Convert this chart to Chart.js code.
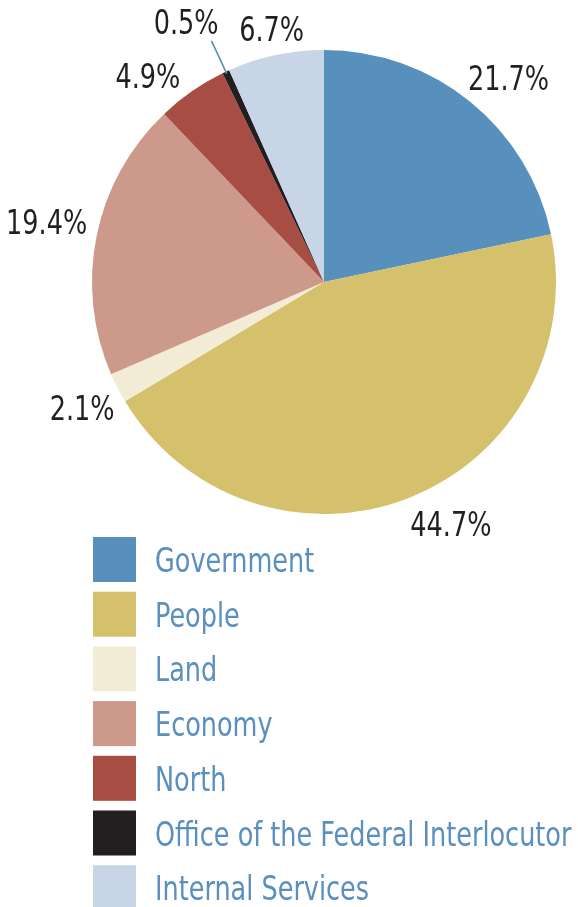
<!DOCTYPE html>
<html>
<head>
<meta charset="utf-8">
<script src="https://cdn.jsdelivr.net/npm/chart.js@4"></script>
<style>
  html, body { margin:0; padding:0; background:#fff; }
  #wrap { width:578px; height:907px; }
</style>
</head>
<body>
<div id="wrap"><canvas id="pie"></canvas></div>
<script>
var categories = ['Government', 'People', 'Land', 'Economy', 'North', 'Office of the Federal Interlocutor', 'Internal Services'];
var shares     = [21.7, 44.7, 2.1, 19.4, 4.9, 0.5, 6.7];
var colors     = ['#5890bd', '#d5c16b', '#f2ecd6', '#cd998b', '#a84d44', '#231f20', '#c8d5e6'];

// small hand nudges for the % labels (px)
var labelNudge = [[10,13], [29,-5], [4,2], [1,-1], [-22,19], [0,4], [2,4]];

var condensed = '"Liberation Sans Narrow", "DejaVu Sans Condensed", "Roboto", sans-serif';
var squeeze = 0.86; // narrow the glyphs a bit more

function narrowText(ctx, txt, x, y){
  ctx.save();
  ctx.translate(x, y);
  ctx.scale(squeeze, 1);
  ctx.fillText(txt, 0, 0);
  ctx.restore();
}

//percent labels outside each slice
var pctLabels = {
  id:'pctLabels',
  afterDatasetsDraw: function(chart){
    var ctx = chart.ctx;
    var arcs = chart.getDatasetMeta(0).data;
    ctx.save();
    ctx.font = '33px ' + condensed;
    ctx.textBaseline = 'middle';
    for (var i=0;i<arcs.length;i++){
      var a = arcs[i];
      var mid = (a.startAngle + a.endAngle)/2;
      var c = Math.cos(mid), s = Math.sin(mid);
      var txt = shares[i].toFixed(1) + '%';
      var hw = ctx.measureText(txt).width*squeeze/2, hh = 12;
      var ox = a.x, oy = a.y;
      var nx = labelNudge[i][0], ny = labelNudge[i][1];
      ctx.fillStyle = '#231f20';
      if (shares[i] < 1) {
        //thin slice gets a leader line
        var ex = ox + c*(a.outerRadius+34), ey = oy + s*(a.outerRadius+34);
        ctx.strokeStyle = '#5890bd';
        ctx.lineWidth = 1.6;
        ctx.beginPath();
        ctx.moveTo(ox + c*(a.outerRadius-2), oy + s*(a.outerRadius-2));
        ctx.lineTo(ex, ey);
        ctx.stroke();
        ctx.textAlign = 'right';
        narrowText(ctx, txt, ex + 7 + nx, ey - 20 + ny);
        continue;
      }
      var d = a.outerRadius + 10 + hw*Math.abs(c) + hh*Math.abs(s);
      ctx.textAlign = 'center';
      narrowText(ctx, txt, ox + c*d + nx, oy + s*d + 1 + ny);
    }
    ctx.restore();
  }
};

//legend list under the pie
var sideLegend = {
  id:'sideLegend',
  afterDraw: function(chart){
    var ctx = chart.ctx;
    ctx.save();
    ctx.font = '33px ' + condensed;
    ctx.textBaseline = 'alphabetic';
    ctx.textAlign = 'left';
    for (var i=0;i<categories.length;i++){
      var y = 537 + i*54.7;
      ctx.fillStyle = colors[i];
      ctx.fillRect(93, y, 43, 45);
      ctx.fillStyle = '#5a8fbf';
      narrowText(ctx, categories[i], 155, y + 35);
    }
    ctx.restore();
  }
};

new Chart(document.getElementById('pie'), {
  type:'pie',
  data:{ labels:categories, datasets:[{ data:shares, backgroundColor:colors, borderWidth:0 }] },
  options:{
    responsive:true,
    maintainAspectRatio:false,
    animation:false,
    layout:{ padding:{ left:92, right:22, top:50, bottom:393 } },
    plugins:{ legend:{ display:false }, tooltip:{ enabled:false } }
  },
  plugins:[pctLabels, sideLegend]
});
</script>
</body>
</html>
